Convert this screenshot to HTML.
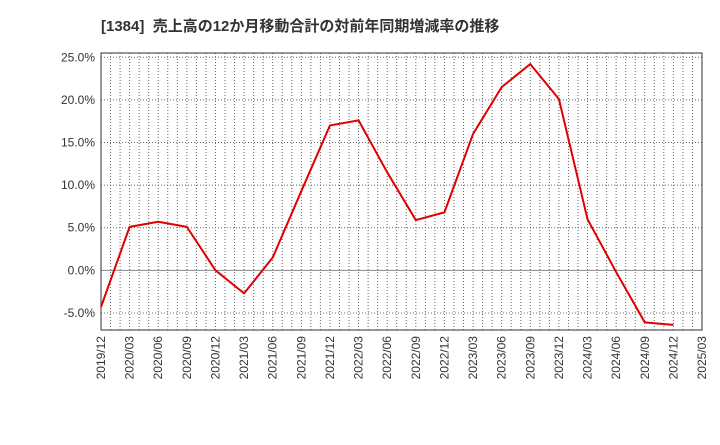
<!DOCTYPE html>
<html><head><meta charset="utf-8"><style>
body{margin:0;background:#fff;width:720px;height:440px;overflow:hidden}
text{font-family:"Liberation Sans","Noto Sans CJK JP",sans-serif;fill:#333}
</style></head><body>
<svg id="chart" width="720" height="440" xmlns="http://www.w3.org/2000/svg">
<text x="101" y="31" font-size="15" font-weight="bold" xml:space="preserve">[1384]  売上高の12か月移動合計の対前年同期増減率の推移</text>
<g id="grid"></g><g id="axes"></g><g id="series"></g>
</svg>
<script>
const categories=["2019/12","2020/03","2020/06","2020/09","2020/12","2021/03","2021/06","2021/09","2021/12","2022/03","2022/06","2022/09","2022/12","2023/03","2023/06","2023/09","2023/12","2024/03","2024/06","2024/09","2024/12"];
const xTickLabels=["2019/12","2020/03","2020/06","2020/09","2020/12","2021/03","2021/06","2021/09","2021/12","2022/03","2022/06","2022/09","2022/12","2023/03","2023/06","2023/09","2023/12","2024/03","2024/06","2024/09","2024/12","2025/03"];
const values=[-4.3,5.1,5.7,5.1,0.0,-2.7,1.5,9.3,17.0,17.6,11.5,5.9,6.8,16.0,21.5,24.2,20.1,6.0,-0.2,-6.1,-6.4];
const yTicks=[-5,0,5,10,15,20,25];
const L=101,R=702,T=53,B=330,yMin=-7.0,yMax=25.5;
const nQ=xTickLabels.length-1;
const x=i=>L+(R-L)*i/nQ;
const y=v=>B-(B-T)*(v-yMin)/(yMax-yMin);
const NS="http://www.w3.org/2000/svg";
function mk(tag,parent,attrs){const e=document.createElementNS(NS,tag);for(const k in attrs)e.setAttribute(k,attrs[k]);document.getElementById(parent).appendChild(e);return e;}
for(let m=1;m<nQ*3;m++){const xx=L+(R-L)*m/(nQ*3);
const g=mk("line","grid",{x1:xx,x2:xx,y1:T,y2:B,stroke:"#666","stroke-width":1,"stroke-dasharray":"1,2"});

}
yTicks.forEach(v=>{const yy=y(v);
const g=mk("line","grid",{x1:L,x2:R,y1:yy,y2:yy,stroke:v===0?"#888":"#666","stroke-width":1,"stroke-dasharray":v===0?"":"1,2"});


const t=mk("text","axes",{x:L-6,y:yy+4,"font-size":12,"text-anchor":"end"});t.textContent=v.toFixed(1)+"%";

});
xTickLabels.forEach((lab,i)=>{const xx=x(i);
const t=mk("text","axes",{x:xx+4,y:B+6,"font-size":12,"text-anchor":"end",transform:`rotate(-90 ${xx+4} ${B+6})`});t.textContent=lab;

});
const fr=mk("rect","axes",{x:L,y:T,width:R-L,height:B-T,fill:"none",stroke:"#333","stroke-width":1});


const ln=mk("polyline","series",{points:values.map((v,i)=>x(i)+","+y(v)).join(" "),fill:"none",stroke:"#e00000","stroke-width":2,"stroke-linejoin":"round"});


</script>
</body></html>
